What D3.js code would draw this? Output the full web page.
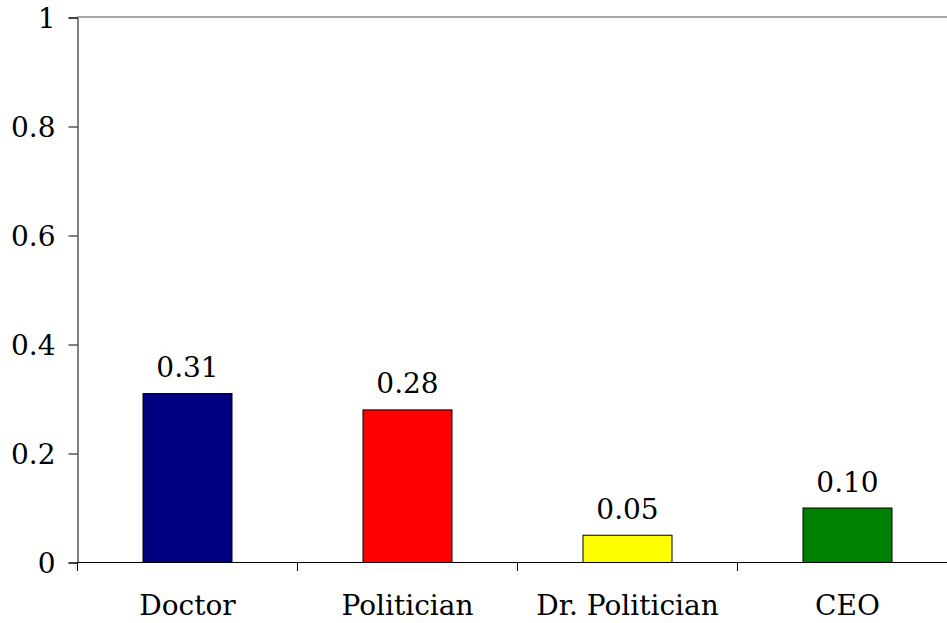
<!DOCTYPE html>
<html>
<head>
<meta charset="utf-8">
<script src="https://cdn.jsdelivr.net/npm/d3@7"></script>
<style>
  html, body { margin: 0; padding: 0; background: #fff; }
  svg { display: block; }
  text { font-family: "DejaVu Serif", serif; font-size: 28px; fill: #000; }
</style>
</head>
<body>
<script>
// Professions and their values
const categories = ["Doctor", "Politician", "Dr. Politician", "CEO"];
const values = [0.31, 0.28, 0.05, 0.10];
const barColors = ["#000080", "#ff0000", "#ffff00", "#008000"];
const yTicks = [0, 0.2, 0.4, 0.6, 0.8, 1];

(function () {
const width = 947, height = 623;
const plotLeft = 77, plotRight = 957, plotTop = 17, plotBottom = 562;
const fontSize = "28px";

const svg = d3.select("body").append("svg")
  .attr("width", width).attr("height", height);

const x = d3.scaleBand().domain(categories).range([plotLeft, plotRight]).paddingInner(0).paddingOuter(0);
const y = d3.scaleLinear().domain([0, 1]).range([plotBottom, plotTop]);

// top frame line
svg.append("line")
  .attr("x1", plotLeft).attr("x2", width)
  .attr("y1", y(1)).attr("y2", y(1))
  .attr("stroke", "#8c8c8c").attr("stroke-width", 1.5);

// bars
const barW = 89;
svg.append("g").selectAll("rect").data(values).join("rect")
  .attr("x", (d, i) => x(categories[i]) + x.bandwidth() / 2 - barW / 2 + 0.5)
  .attr("y", d => y(d) + 0.5)
  .attr("width", barW)
  .attr("height", d => y(0) - y(d))
  .attr("fill", (d, i) => barColors[i])
  .attr("stroke", "#000").attr("stroke-width", 1);

// value labels
svg.append("g").selectAll("text").data(values).join("text")
  .attr("x", (d, i) => x(categories[i]) + x.bandwidth() / 2 + 0.5)
  .attr("y", d => y(d) - 16)
  .attr("text-anchor", "middle")
  .text(d => d.toFixed(2));

// y axis
const yAxis = d3.axisLeft(y).tickValues(yTicks).tickSize(9).tickPadding(13)
  .tickFormat(d => d === 0 ? "0" : d === 1 ? "1" : d3.format(".1f")(d));
const gy = svg.append("g").attr("transform", `translate(${plotLeft + 0.5},0.5)`).call(yAxis);
gy.select(".domain").attr("stroke", "#000");
gy.selectAll(".tick line").attr("stroke", "#000");
gy.selectAll(".tick text").style("font-family", "DejaVu Serif, serif").style("font-size", fontSize).attr("dy", "0.36em");

// x axis
const bw = x.bandwidth();
const xTickPos = [0, 1, 2, 3, 4].map(i => plotLeft + i * bw);
svg.append("line").attr("x1", plotLeft).attr("x2", width)
  .attr("y1", plotBottom + 0.5).attr("y2", plotBottom + 0.5).attr("stroke", "#000");
svg.append("g").selectAll("line").data(xTickPos).join("line")
  .attr("x1", d => d + 0.5).attr("x2", d => d + 0.5)
  .attr("y1", plotBottom).attr("y2", plotBottom + 9)
  .attr("stroke", "#000");
svg.append("g").selectAll("text").data(categories).join("text")
  .attr("x", d => x(d) + bw / 2 + 0.5)
  .attr("y", 615)
  .attr("text-anchor", "middle")
  .text(d => d);
})();
</script>
</body>
</html>
